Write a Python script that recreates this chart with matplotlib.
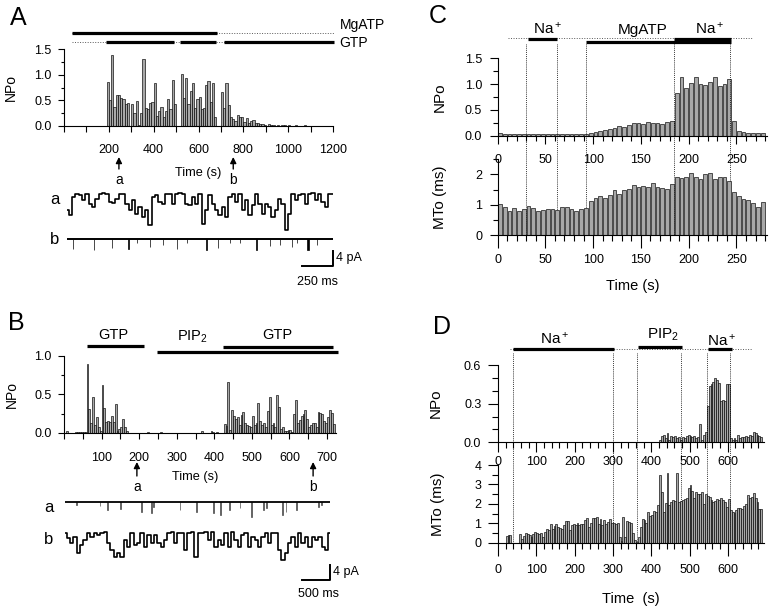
import numpy as np
import matplotlib
matplotlib.use("Agg")
import matplotlib.pyplot as plt
from matplotlib.ticker import MultipleLocator, FixedLocator, FormatStrFormatter
import matplotlib.transforms as mtransforms

plt.rcParams['font.family'] = ['Liberation Sans', 'DejaVu Sans']
plt.rcParams['mathtext.default'] = 'regular'

# ------------------------------------------------------------------ data
# Panel A : NPo in 10-s bins starting at 190 s
A_bin_start = np.arange(190, 1200, 10)
A_npo = [0.85, 0.50, 1.38, 0.37, 0.60, 0.60, 0.54, 0.53, 0.43, 0.44,
         0.00, 0.43, 0.26, 0.49, 0.02, 0.25, 1.30, 0.36, 0.34, 0.45,
         0.47, 0.83, 0.19, 0.29, 0.37, 0.18, 0.30, 0.52, 0.33, 0.89,
         0.43, 0.00, 0.00, 1.02, 0.55, 0.94, 0.43, 0.68, 0.84, 0.35,
         0.52, 0.56, 0.33, 0.35, 0.79, 0.88, 0.47, 0.84, 0.17, 0.00,
         0.00, 0.67, 0.36, 0.83, 0.40, 0.17, 0.13, 0.10, 0.21, 0.17,
         0.17, 0.08, 0.16, 0.06, 0.10, 0.12, 0.06, 0.05, 0.04, 0.04,
         0.01, 0.00, 0.03, 0.01,
         0.01, 0.00, 0.01, 0.00, 0.01, 0.01, 0.00, 0.01, 0.00, 0.00,
         0.01, 0.00, 0.00, 0.00, 0.01, 0.00, 0.00, 0.00, 0.00, 0.00,
         0.00, 0.00, 0.00, 0.00, 0.00, 0.00, 0.00]
A_xticks = [200, 400, 600, 800, 1000, 1200]
A_yticks = [0.0, 0.5, 1.0, 1.5]
A_span = (36, 1204)
A_mgatp_on = [(36, 682)]
A_gtp_on = [(187, 490), (517, 678), (714, 1204)]
A_marks = [245, 755]

# Panel A current traces (pA, 0 = closed)
A_trace_dur = 2145  # ms
A_trace_a = [-4.5, -5.8, -1.0, -0.2, -0.6, -1.9, -0.2, -2.8, -3.7, -1.5,
             -0.2, 0.0, -0.2, -2.3, -2.6, -1.5, -0.2, -0.2, -2.8, -4.5,
             -1.9, -5.4, -3.7, -6.3, -4.5, -8.4, -1.0, -0.6, -2.3, -2.8,
             -0.2, -0.2, -2.8, -0.2, 0.0, -0.2, -2.8, -3.2, -1.0, -2.8,
             -0.2, -8.0, -4.5, -0.6, -2.8, -4.5, -5.8, -3.7, -6.3, -1.0,
             -0.2, -2.3, -0.2, -4.5, -1.9, -5.8, -3.2, -0.2, -2.8, -5.4,
             -2.8, -3.7, -6.3, -4.5, -1.5, -2.8, -9.7, -5.4, -0.2, -1.9,
             -0.6, -0.2, -2.8, -0.2, 0.0, -1.9, -0.2, -2.3, -3.7, -0.2, -0.2]
A_b_times = [51, 218, 360, 495, 562, 669, 777, 884, 965, 1126,
             1220, 1314, 1395, 1530, 1637, 1718, 1812, 1852, 1946, 2013]
A_b_depth = [2.7, 3.0, 2.4, 2.7, 1.1, 2.0, 1.6, 2.7, 1.1, 2.9,
             2.4, 1.1, 1.1, 3.0, 1.8, 1.6, 2.2, 1.1, 3.0, 1.6]
A_b_dur = [2, 2, 2, 9, 2, 2, 2, 2, 2, 10, 2, 2, 2, 10, 2, 2, 2, 2, 16, 2]

# Panel B : NPo in 5-s bins from 0 s
B_bin_start = np.arange(0, 720, 5)
B_npo = [0.00, 0.02, 0.00, 0.00, 0.00, 0.00,
         0.005, 0.005, 0.005, 0.005, 0.005, 0.005,
         0.90, 0.31, 0.12, 0.46, 0.10, 0.21, 0.07, 0.02, 0.62, 0.32,
         0.14, 0.15, 0.14, 0.22, 0.14, 0.38, 0.02, 0.05, 0.08, 0.18,
         0.08, 0.02,
         0.00, 0.00, 0.00, 0.00, 0.00, 0.00, 0.00, 0.00, 0.00, 0.00,
         0.01,
         0.00, 0.00, 0.00, 0.00, 0.00, 0.00,
         0.01,
         0.00, 0.00, 0.00, 0.00, 0.00, 0.00, 0.00, 0.00, 0.00, 0.00,
         0.00, 0.00, 0.00, 0.00, 0.00, 0.00, 0.00, 0.00, 0.00, 0.00, 0.00,
         0.02,
         0.00, 0.00, 0.00, 0.00,
         0.02, 0.015, 0.00, 0.01, 0.00, 0.00, 0.00,
         0.11, 0.09, 0.66, 0.03, 0.29, 0.22, 0.18, 0.20, 0.10, 0.23,
         0.27, 0.12, 0.10, 0.09, 0.08, 0.22, 0.10, 0.12, 0.39, 0.15,
         0.10, 0.13, 0.07, 0.28, 0.46, 0.10, 0.13, 0.08, 0.49, 0.33,
         0.05, 0.07, 0.02, 0.02, 0.04, 0.03, 0.01, 0.25, 0.42, 0.13,
         0.17, 0.22, 0.25, 0.29, 0.18, 0.08, 0.10, 0.13, 0.12, 0.07,
         0.27, 0.26, 0.24, 0.15, 0.13, 0.20, 0.30, 0.26, 0.11]
B_xticks = [100, 200, 300, 400, 500, 600, 700]
B_yticks = [0.0, 0.5, 1.0]
B_gtp1_on = [(61, 213)]
B_pip2_on = [(248, 729)]
B_gtp2_on = [(423, 716)]
B_marks = [194, 663]

B_trace_dur = 4732  # ms
B_a_times = [208, 625, 762, 994, 1369, 1548, 1577, 2054, 2351, 2649, 2780,
             2935, 3125, 3333, 3542, 3601, 3887, 3946, 4137, 4524, 4583]
B_a_depth = [1.0, 1.2, 2.2, 2.0, 2.7, 3.1, 1.5, 2.2, 2.7, 3.1, 3.6,
             2.2, 1.8, 4.0, 2.2, 1.8, 3.6, 2.7, 2.2, 1.3, 0.9]
B_trace_b = [-0.4, -1.8, -3.1, -1.3, -5.8, -3.6, -2.2, -0.4, -1.3, -0.4,
             -0.9, -0.4, 0.0, -3.1, -4.9, -6.7, -5.8, -6.7, -2.2, -4.0,
             -0.4, -3.6, -3.1, -0.4, -4.0, -0.9, -3.1, -0.9, -3.1, -4.0,
             -2.2, -0.4, 0.0, -3.1, -0.4, -0.3, -4.9, -0.4, 0.0, -6.7,
             -0.4, -0.3, 0.0, -2.2, 0.0, -4.0, -2.2, -3.6, -0.4, -4.0,
             0.0, -2.2, -4.0, -0.9, -0.4, -4.0, -1.3, -2.2, -4.0, -1.3,
             -0.3, -3.1, -0.4, -0.4, -4.9, -7.6, -5.8, -3.1, -1.3, -4.0,
             -0.4, -3.1, -1.3, -4.0, -1.3, -2.2, -1.3, -4.0, -4.9, -0.4]

# Panel C : 5-s bins
C_bin_start = np.arange(0, 280, 5)
C_npo = [0.06, 0.04, 0.04, 0.03, 0.03, 0.04, 0.04, 0.04, 0.04, 0.04,
         0.04, 0.03, 0.04, 0.03, 0.03, 0.03, 0.03, 0.03, 0.03, 0.05,
         0.08, 0.10, 0.11, 0.13, 0.15, 0.18, 0.17, 0.20, 0.24, 0.25,
         0.23, 0.26, 0.24, 0.24, 0.23, 0.27, 0.28, 0.83, 1.13, 0.93,
         1.03, 1.13, 1.00, 0.98, 1.05, 1.14, 0.96, 1.00, 1.09, 0.29,
         0.09, 0.08, 0.06, 0.05, 0.05, 0.05]
C_mto = [1.02, 0.93, 0.80, 0.90, 0.80, 0.87, 0.96, 0.88, 0.80, 0.82,
         0.87, 0.85, 0.82, 0.93, 0.92, 0.86, 0.80, 0.85, 0.90, 1.12,
         1.22, 1.30, 1.22, 1.32, 1.48, 1.37, 1.47, 1.52, 1.64, 1.60,
         1.61, 1.58, 1.72, 1.60, 1.55, 1.53, 1.67, 1.90, 1.87, 1.93,
         2.05, 1.93, 1.86, 2.00, 2.06, 1.84, 1.90, 1.90, 1.77, 1.42,
         1.30, 1.20, 1.14, 1.06, 0.93, 1.10]
C_xticks = [0, 50, 100, 150, 200, 250]
C_npo_yticks = [0.0, 0.5, 1.0, 1.5]
C_mto_yticks = [0, 1, 2]
C_span = (11, 266)
C_na1_on = [(32, 62)]
C_mgatp_on = [(92.5, 244)]
C_na2_on = [(184.6, 244)]
C_switch_times = [30, 62.5, 93, 184.6, 243]

# Panel D : 5-s bins
D_npo_start = np.arange(420, 690, 5)
D_npo = [0.02, 0.05, 0.06, 0.03, 0.07, 0.02, 0.05, 0.04, 0.05, 0.03,
         0.04, 0.02, 0.04, 0.03, 0.05, 0.06, 0.05, 0.04, 0.05, 0.03,
         0.04, 0.14, 0.02, 0.06, 0.08,
         0.28, 0.44, 0.45, 0.47, 0.50, 0.48, 0.46, 0.32, 0.33, 0.32,
         0.45, 0.45,
         0.03, 0.02, 0.03, 0.02, 0.06, 0.03, 0.04, 0.04, 0.05, 0.04,
         0.06, 0.05, 0.08, 0.07, 0.06, 0.05, 0.04]
D_mto_start = np.concatenate([[20, 25, 30], np.arange(55, 690, 5)])
D_mto = [0.35, 0.40, 0.40,
         0.45, 0.20, 0.35, 0.50, 0.45, 0.40, 0.30, 0.45, 0.55, 0.50,
         0.45, 0.50, 0.30, 0.55, 0.70, 0.65, 0.95, 0.70, 0.85, 0.95,
         0.80, 0.75, 0.70, 0.90, 1.10, 1.10, 0.65, 0.90, 0.95, 0.90,
         1.00, 0.90, 0.95, 0.95, 1.15, 1.25, 0.80, 1.00, 1.25, 1.25,
         1.30, 0.95, 1.20, 0.90, 1.15, 0.95, 1.05, 1.20, 1.00,
         1.00, 0.95, 1.00, 0.30, 0.10, 1.30, 0.30, 1.10, 1.05, 1.00,
         0.50, 0.15, 0.05,
         0.30, 0.80, 1.20, 1.15, 1.00, 1.60, 1.40, 1.45, 1.65, 1.60,
         1.95, 3.50, 2.60, 1.60, 2.05, 3.60, 1.95, 2.10, 2.20, 2.15,
         3.60, 2.10, 2.15,
         2.20, 2.25, 2.30, 2.80, 2.95, 2.65, 2.30, 2.60, 2.50, 2.50,
         2.60, 2.00, 2.50,
         2.40, 2.35, 2.20, 2.10, 2.15, 2.25, 2.20, 2.30, 2.20, 2.10,
         1.85, 2.25,
         1.70, 1.60, 1.55, 1.70, 1.80, 1.80, 1.75, 1.90, 2.00, 2.45,
         2.30, 2.35, 2.55, 2.30, 2.10, 1.75, 1.75]
D_xticks = [0, 100, 200, 300, 400, 500, 600]
D_npo_yticks = [0.0, 0.3, 0.6]
D_mto_yticks = [0, 1, 2, 3, 4]
D_span = (31, 662)
D_na1_on = [(40, 303)]
D_pip2_on = [(365, 481)]
D_na2_on = [(549, 610)]
D_switch_times = [38, 300, 363, 479, 545, 606]

# ------------------------------------------------------------------ figure
W, H = 776, 609
fig = plt.figure(figsize=(W / 100, H / 100), dpi=100)


def px_axes(box):
    l, t, r, b = box
    ax = fig.add_axes([l / W, 1 - b / H, (r - l) / W, (b - t) / H])
    ax.set_facecolor('none')
    return ax


def yf(box, ypx):
    return (box[3] - ypx) / (box[3] - box[1])


def style(ax, xmaj, xmin, ymaj, ymin, yfmt, xlen, ylen, xpad, ypad, fs=9):
    for s in ('top', 'right'):
        ax.spines[s].set_visible(False)
    for s in ('left', 'bottom'):
        ax.spines[s].set_linewidth(0.8)
    ax.xaxis.set_major_locator(FixedLocator(xmaj))
    ax.xaxis.set_minor_locator(MultipleLocator(xmin))
    ax.yaxis.set_major_locator(FixedLocator(ymaj))
    ax.yaxis.set_minor_locator(MultipleLocator(ymin))
    ax.yaxis.set_major_formatter(FormatStrFormatter(yfmt))
    ax.tick_params(axis='x', which='major', direction='out', length=xlen[0],
                   width=0.8, pad=xpad, labelsize=fs)
    ax.tick_params(axis='x', which='minor', direction='out', length=xlen[1], width=0.8)
    ax.tick_params(axis='y', which='major', direction='out', length=ylen[0],
                   width=0.8, pad=ypad, labelsize=fs)
    ax.tick_params(axis='y', which='minor', direction='out', length=ylen[1], width=0.8)


BAR = dict(color='#a8a8a8', edgecolor='k', linewidth=0.45, align='edge')
DOT = dict(color='0.35', lw=0.7, ls=(0, (1, 1.6)))


def row(ax, y, solids, span=None, lw=2.3):
    tr = ax.get_xaxis_transform()
    if span is not None:
        ax.plot(span, [y, y], transform=tr, clip_on=False, **DOT)
    for s, e in solids:
        ax.plot([s, e], [y, y], transform=tr, color='k', lw=lw,
                solid_capstyle='butt', clip_on=False)


def label(ax, x, y, s, fs=10.5):
    ax.text(x, y, s, transform=ax.get_xaxis_transform(), ha='center',
            va='center', fontsize=fs)


def arrow(ax, x, y_tip, y_tail, y_lab, s):
    tr = ax.get_xaxis_transform()
    ax.annotate('', xy=(x, y_tip), xytext=(x, y_tail), xycoords=tr,
                textcoords=tr, annotation_clip=False,
                arrowprops=dict(arrowstyle='-|>', color='k', lw=1.0,
                                mutation_scale=9, shrinkA=0, shrinkB=0))
    ax.text(x, y_lab, s, transform=tr, ha='center', va='center', fontsize=10)


# ---------------------------------------------------------------- Panel A
boxA = (64, 49, 333, 126)
axA = px_axes(boxA)
axA.bar(A_bin_start, A_npo, width=10, **BAR)
axA.set_xlim(0, 1200)
axA.set_ylim(0, 1.5)
style(axA, A_xticks, 100, A_yticks, 0.25, '%.1f', (4, 4), (4, 2.5), 9, 5)
axA.set_ylabel('NPo', fontsize=10)
axA.yaxis.set_label_coords((18 - 64) / (333 - 64), 0.5)
axA.text(0.5, yf(boxA, 173), 'Time (s)', transform=axA.transAxes,
         ha='center', va='center', fontsize=9.2)
row(axA, yf(boxA, 33), A_mgatp_on, span=A_span)
row(axA, yf(boxA, 42), A_gtp_on, span=A_span)
axA.text(1.025, yf(boxA, 29.5), 'MgATP', transform=axA.transAxes,
         ha='left', va='baseline', fontsize=10)
axA.text(1.025, yf(boxA, 47), 'GTP', transform=axA.transAxes,
         ha='left', va='baseline', fontsize=10)
for t, s in zip(A_marks, ['a', 'b']):
    arrow(axA, t, yf(boxA, 157), yf(boxA, 169), yf(boxA, 180), s)

# traces A
boxAt = (67, 185, 333, 275)
axAt = px_axes(boxAt)
axAt.axis('off')
pA_px = 15.3 / 4
offB_A = -(239 - 193) / pA_px
axAt.set_xlim(0, A_trace_dur)
axAt.set_ylim(-(275 - 193) / pA_px, (193 - 185) / pA_px)
axAt.plot(np.linspace(0, A_trace_dur, len(A_trace_a)), A_trace_a,
          color='k', lw=1.2, drawstyle='steps-mid')
axAt.plot([0, A_trace_dur], [offB_A, offB_A], color='k', lw=1.4)
axAt.bar(A_b_times, [-d for d in A_b_depth], bottom=offB_A, width=A_b_dur,
         color='k', edgecolor='k', linewidth=0.5)
y1, y2 = -(251 - 193) / pA_px, -(266 - 193) / pA_px
axAt.plot([A_trace_dur - 250, A_trace_dur, A_trace_dur], [y2, y2, y1],
          color='k', lw=1.4, clip_on=False)
axAt.text(A_trace_dur + 25, (y1 + y2) / 2, '4 pA', fontsize=9, va='center', ha='left')
axAt.text(A_trace_dur - 125, -(282 - 193) / pA_px, '250 ms', fontsize=9,
          va='center', ha='center')
axAt.text(-97, -(199 - 193) / pA_px, 'a', fontsize=12, va='center', ha='center')
axAt.text(-97, offB_A, 'b', fontsize=12, va='center', ha='center')

# ---------------------------------------------------------------- Panel B
boxB = (64, 356, 336.4, 432.7)
axB = px_axes(boxB)
axB.bar(B_bin_start, B_npo, width=5, **BAR)
axB.set_xlim(0, 725)
axB.set_ylim(0, 1.0)
style(axB, B_xticks, 50, B_yticks, 0.25, '%.1f', (4, 4), (4, 2.5), 10, 5)
axB.set_ylabel('NPo', fontsize=10)
axB.yaxis.set_label_coords((19 - 64) / (336.4 - 64), 0.5)
axB.text(0.48, yf(boxB, 477), 'Time (s)', transform=axB.transAxes,
         ha='center', va='center', fontsize=9.2)
row(axB, yf(boxB, 346), B_gtp1_on)
row(axB, yf(boxB, 352), B_pip2_on)
row(axB, yf(boxB, 347), B_gtp2_on)
label(axB, 130, yf(boxB, 335), 'GTP')
label(axB, 341, yf(boxB, 337), 'PIP$_2$')
label(axB, 567, yf(boxB, 335), 'GTP')
for t, s in zip(B_marks, ['a', 'b']):
    arrow(axB, t, yf(boxB, 462), yf(boxB, 476), yf(boxB, 487), s)

boxBt = (65, 495, 330, 585)
axBt = px_axes(boxBt)
axBt.axis('off')
pB_px = 15 / 4
offB_B = -(531.7 - 501.7) / pB_px
axBt.set_xlim(0, B_trace_dur)
axBt.set_ylim(-(585 - 501.7) / pB_px, (501.7 - 495) / pB_px)
axBt.plot([0, B_trace_dur], [0, 0], color='k', lw=1.3)
axBt.bar(B_a_times, [-d for d in B_a_depth], width=8, color='0.3',
         edgecolor='0.3', linewidth=0.5)
axBt.plot(np.linspace(0, B_trace_dur, len(B_trace_b)),
          [v + offB_B for v in B_trace_b], color='k', lw=1.2,
          drawstyle='steps-mid')
y1, y2 = -(565 - 501.7) / pB_px, -(580 - 501.7) / pB_px
axBt.plot([B_trace_dur - 500, B_trace_dur, B_trace_dur], [y2, y2, y1],
          color='k', lw=1.4, clip_on=False)
axBt.text(B_trace_dur + 60, (y1 + y2) / 2, '4 pA', fontsize=9, va='center', ha='left')
axBt.text(B_trace_dur - 210, -(594 - 501.7) / pB_px, '500 ms', fontsize=9,
          va='center', ha='center')
axBt.text(-286, -(507 - 501.7) / pB_px, 'a', fontsize=12, va='center', ha='center')
axBt.text(-286, -(540 - 501.7) / pB_px, 'b', fontsize=12, va='center', ha='center')

# ---------------------------------------------------------------- Panel C
boxC1 = (497.5, 58.3, 767, 135.7)
boxC2 = (497.5, 159.3, 767, 235)
axC1 = px_axes(boxC1)
axC2 = px_axes(boxC2)
axC1.bar(C_bin_start + 0.5, C_npo, width=4, **BAR)
axC2.bar(C_bin_start + 0.5, C_mto, width=4, **BAR)
for ax in (axC1, axC2):
    ax.set_xlim(0, 282)
axC1.set_ylim(0, 1.5)
axC2.set_ylim(0, 2.5)
style(axC1, C_xticks, 10, C_npo_yticks, 0.25, '%.1f', (6, 3.5), (6, 3.5), 7, 5)
style(axC2, C_xticks, 10, C_mto_yticks, 0.5, '%d', (9, 4), (6, 3.5), 5, 5)
axC1.set_ylabel('NPo', fontsize=11)
axC2.set_ylabel('MTo (ms)', fontsize=11)
wC = boxC1[2] - boxC1[0]
axC1.yaxis.set_label_coords((447 - 497.5) / wC, 0.5)
axC2.yaxis.set_label_coords((447 - 497.5) / wC, 0.5)
axC2.set_xlabel('Time (s)', fontsize=10.5, labelpad=9)
row(axC1, yf(boxC1, 37.7), [], span=C_span)
row(axC1, yf(boxC1, 38.5), C_na1_on)
row(axC1, yf(boxC1, 41.5), C_mgatp_on)
row(axC1, yf(boxC1, 38.5), C_na2_on)
label(axC1, 53, yf(boxC1, 29), 'Na$^+$', fs=11)
label(axC1, 152, yf(boxC1, 30), 'MgATP', fs=11)
label(axC1, 222, yf(boxC1, 29), 'Na$^+$', fs=11)
trC = mtransforms.blended_transform_factory(axC1.transData, fig.transFigure)
for t in C_switch_times:
    axC1.plot([t, t], [1 - 44 / H, 1 - 235 / H], transform=trC,
              clip_on=False, color='k', lw=0.6, ls=(0, (1, 1.3)))

# ---------------------------------------------------------------- Panel D
boxD1 = (498, 365, 764.2, 442.3)
boxD2 = (498, 465, 764.2, 542.7)
axD1 = px_axes(boxD1)
axD2 = px_axes(boxD2)
axD1.bar(D_npo_start, D_npo, width=5, **BAR)
axD2.bar(D_mto_start, D_mto, width=5, **BAR)
for ax in (axD1, axD2):
    ax.set_xlim(0, 695)
axD1.set_ylim(0, 0.6)
axD2.set_ylim(0, 4)
style(axD1, D_xticks, 20, D_npo_yticks, 0.1, '%.1f', (7, 4), (7, 4), 3, 5)
style(axD2, D_xticks, 20, D_mto_yticks, 0.5, '%d', (9, 4), (7, 4), 6, 5)
axD1.set_ylabel('NPo', fontsize=11)
axD2.set_ylabel('MTo (ms)', fontsize=11)
wD = boxD1[2] - boxD1[0]
axD1.yaxis.set_label_coords((443 - 498) / wD, 0.5)
axD2.yaxis.set_label_coords((445 - 498) / wD, 0.5)
axD2.set_xlabel('Time  (s)', fontsize=10.5, labelpad=12)
row(axD1, yf(boxD1, 349.3), [], span=D_span)
row(axD1, yf(boxD1, 349.3), D_na1_on)
row(axD1, yf(boxD1, 346.7), D_pip2_on)
row(axD1, yf(boxD1, 349.3), D_na2_on)
label(axD1, 149, yf(boxD1, 339), 'Na$^+$', fs=11)
label(axD1, 432, yf(boxD1, 335), 'PIP$_2$', fs=11)
label(axD1, 584, yf(boxD1, 341), 'Na$^+$', fs=11)
trD = mtransforms.blended_transform_factory(axD1.transData, fig.transFigure)
for t in D_switch_times:
    axD1.plot([t, t], [1 - 353 / H, 1 - 542.7 / H], transform=trD,
              clip_on=False, color='k', lw=0.6, ls=(0, (1, 1.3)))

# ---------------------------------------------------------------- letters
for s, x, y in [('A', 18, 18), ('B', 16, 323), ('C', 438, 16), ('D', 442, 327)]:
    fig.text(x / W, 1 - y / H, s, fontsize=18, ha='center', va='center')

fig.savefig('out.png', dpi=100)
